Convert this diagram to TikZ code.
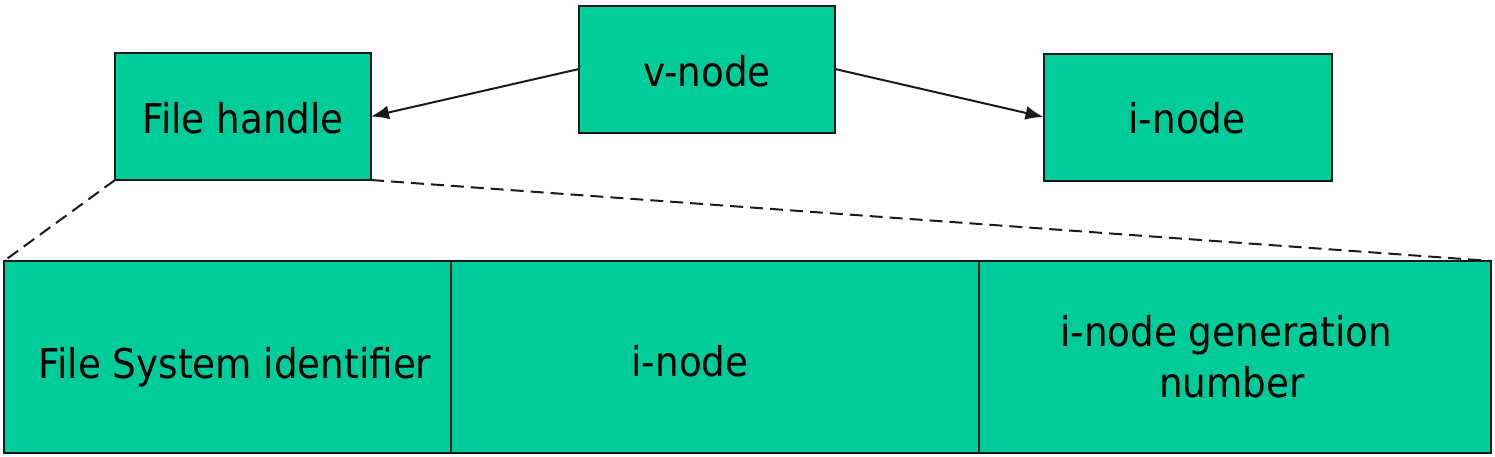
\documentclass[tikz,border=0pt]{standalone}
\usepackage{fontspec}
\setmainfont[FakeStretch=0.91]{DejaVu Sans}
\usetikzlibrary{arrows.meta}
\definecolor{boxfill}{HTML}{00CC99}
\definecolor{edge}{HTML}{1A1A1A}
\tikzset{
  box/.style={draw=edge, line width=2pt, fill=boxfill, inner sep=0pt, outer sep=0pt},
  lbl/.style={anchor=base, inner sep=0pt, font=\fontsize{41}{51}\selectfont, align=center},
  conn/.style={draw=edge, line width=2pt, -{Latex[length=18pt,width=14pt]}},
  dashconn/.style={draw=edge, line width=2pt, dash pattern=on 13pt off 7pt}
}
\begin{document}
\begin{tikzpicture}[x=1pt,y=-1pt]
\useasboundingbox (0,0) rectangle (1495,456);
% top boxes
\node[box, minimum width=256pt, minimum height=127pt] (fh) at (243,116.5) {};
\node[box, minimum width=256pt, minimum height=127pt] (vn) at (707,69) {};
\node[box, minimum width=288pt, minimum height=127pt] (in) at (1187.5,117) {};
% bottom cells
\node[box, minimum width=447pt, minimum height=192pt] (c1) at (227.5,357) {};
\node[box, minimum width=528pt, minimum height=192pt] (c2) at (715,357) {};
\node[box, minimum width=512pt, minimum height=192pt] (c3) at (1235,357) {};
% labels
\node[lbl] (tfh) at (243,133) {File handle};
\node[lbl] (tvn) at (707,86) {v-node};
\node[lbl] (tin) at (1187,133) {i-node};
\node[lbl] (t1) at (235,378) {File System identifier};
\node[lbl] (t2) at (690,376) {i-node};
\node[lbl] (t3a) at (1226,346) {i-node generation};
\node[lbl] (t3b) at (1232,397) {number};
% connectors
\draw[conn] (vn.west) -- (fh.east);
\draw[conn] (vn.east) -- (in.west);
\draw[dashconn] (fh.south west) -- (c1.north west);
\draw[dashconn] (fh.south east) -- (c3.north east);
\end{tikzpicture}
\end{document}
